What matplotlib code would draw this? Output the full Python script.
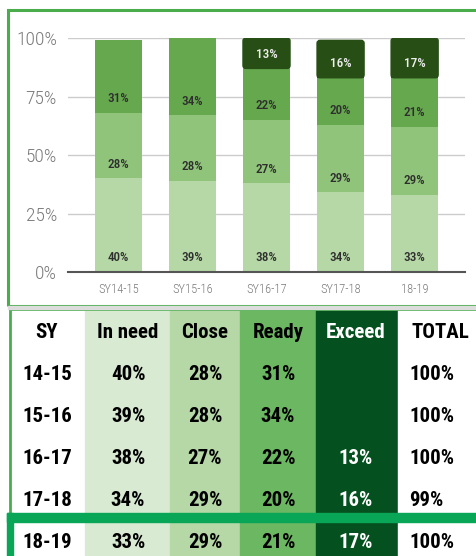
import matplotlib.pyplot as plt
from matplotlib.patches import Rectangle, FancyBboxPatch

years = ['SY14-15', 'SY15-16', 'SY16-17', 'SY17-18', '18-19']
row_labels = ['14-15', '15-16', '16-17', '17-18', '18-19']
in_need = [40, 39, 38, 34, 33]
close = [28, 28, 27, 29, 29]
ready = [31, 34, 22, 20, 21]
exceed = [0, 0, 13, 16, 17]
total = [100, 100, 100, 99, 100]
headers = ['SY', 'In need', 'Close', 'Ready', 'Exceed', 'TOTAL']

bar_colors = ['#b5d8a6', '#8fc47a', '#66a84e', '#274f15']
cell_colors = ['#ffffff', '#d9ead3', '#b5d8a6', '#6cb761', '#04501e', '#ffffff']

FONT = 'Roboto Condensed'
W, H = 476, 556


def fx(px):
    return px / W


def fy(py):
    return 1 - py / H


def main():
    fig = plt.figure(figsize=(W / 100, H / 100), dpi=100)
    draw_chart(fig)
    draw_table(fig)
    fig.savefig('out.png', dpi=100)


def draw_chart(fig):
    # green frame round the chart
    fig.patches.append(Rectangle((fx(8), fy(306)), fx(480) - fx(8), fy(10) - fy(306),
                                 transform=fig.transFigure, fill=False,
                                 edgecolor='#49ad4c', linewidth=2.2, zorder=0))
    fig.patches.append(Rectangle((fx(8), fy(309)), fx(476) - fx(8), fy(306) - fy(309),
                                 transform=fig.transFigure, color='#dcdcdc', zorder=0))

    ax = fig.add_axes([fx(68), fy(272), fx(465) - fx(68), fy(38) - fy(272)])
    n = len(years)
    width = 0.635
    bottom = [0] * n
    for k, (vals, col) in enumerate(zip([in_need, close, ready, exceed], bar_colors)):
        for i, v in enumerate(vals):
            if not v:
                continue
            if k == 3:
                # exceed segment has rounded top corners
                ax.add_patch(FancyBboxPatch((i - width / 2, bottom[i]), width, v,
                                            boxstyle='round,pad=0,rounding_size=0.04',
                                            mutation_aspect=31, color=col, zorder=2))
                ax.bar(i, v - 3, bottom=bottom[i], width=width, color=col, zorder=2)
            else:
                ax.bar(i, v, bottom=bottom[i], width=width, color=col, zorder=2)
            ax.text(i, bottom[i] + 6, f'{v}%', ha='center', va='center',
                    fontsize=9.5, family=FONT, fontweight='medium',
                    color='#eeeeee' if k == 3 else '#2e2e2e', zorder=3)
        bottom = [b + v for b, v in zip(bottom, vals)]

    ax.set_xlim(-0.68, 4.68)
    ax.set_ylim(0, 100)
    ax.set_yticks([0, 25, 50, 75, 100])
    ax.set_yticklabels(['0%', '25%', '50%', '75%', '100%'])
    ax.set_xticks(range(n))
    ax.set_xticklabels(years)
    ax.tick_params(length=0, colors='#7a7a7a')
    ax.tick_params(axis='y', labelsize=14, pad=8)
    ax.tick_params(axis='x', labelsize=9, pad=8)
    for lab in ax.get_xticklabels() + ax.get_yticklabels():
        lab.set_family(FONT)
        lab.set_fontweight('light')
    ax.grid(axis='y', color='#cccccc', linewidth=1, zorder=0)
    for s in ['top', 'right', 'left']:
        ax.spines[s].set_visible(False)
    ax.spines['bottom'].set_color('#555555')
    ax.spines['bottom'].set_linewidth(1.5)
    ax.spines['bottom'].set_zorder(4)


def draw_table(fig):
    ax = fig.add_axes([0, 0, 1, fy(308)])
    ax.set_xlim(0, W)
    ax.set_ylim(H, 308)
    ax.axis('off')

    edges = [10, 85, 170, 240, 316, 398, 476]
    centers = [47, 128, 205, 278, 356, 440]
    for j in range(6):
        ax.add_patch(Rectangle((edges[j], 308), edges[j + 1] - edges[j], H - 308,
                               color=cell_colors[j], zorder=1))

    # left and top green border
    ax.plot([10, 10], [308, 513], color='#49ad4c', linewidth=2, zorder=3)
    ax.plot([10, 476], [309, 309], color='#49ad4c', linewidth=2, zorder=3)

    bold = dict(family=FONT, fontweight='heavy', fontsize=15, va='center', zorder=4)
    for j, h in enumerate(headers):
        ax.text(centers[j], 333, h, ha='center',
                color='white' if j == 4 else 'black', **bold)

    row_y = [375, 417, 458, 500, 542]
    for i in range(len(row_labels)):
        y = row_y[i]
        ax.text(centers[0], y, row_labels[i], ha='center', color='black', **bold)
        for j, vals in enumerate([in_need, close, ready, exceed], start=1):
            if vals[i]:
                ax.text(centers[j], y, f'{vals[i]}%', ha='center',
                        color='white' if j == 4 else 'black', **bold)
        ax.text(409, y, f'{total[i]}%', ha='left', color='black', **bold)

    # highlight box round the last row
    ax.add_patch(Rectangle((7, 513), W, 9, color='#0aa657', zorder=3))
    ax.add_patch(Rectangle((7, 513), 6, H - 513, color='#0aa657', zorder=3))


if __name__ == '__main__':
    main()
